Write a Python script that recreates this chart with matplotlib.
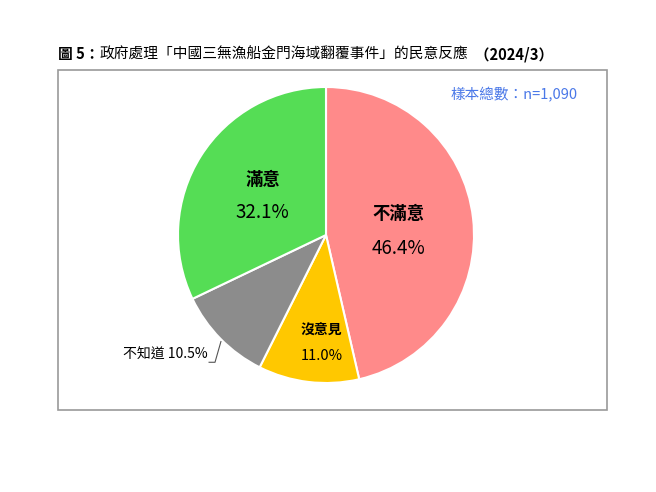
import matplotlib.pyplot as plt
from matplotlib.patches import Rectangle

plt.rcParams['font.family'] = ['Noto Sans CJK TC', 'DejaVu Sans']

categories = ["不滿意", "沒意見", "不知道", "滿意"]
values = [46.4, 11.0, 10.5, 32.1]
colors = ["#FF8A8A", "#FFC800", "#8C8C8C", "#55DD55"]
sample_text = "樣本總數：n=1,090"

fig = plt.figure(figsize=(6.56, 4.92), dpi=100)

# frame around the chart
fig.patches.append(Rectangle((58 / 656, 1 - 410 / 492), 549 / 656, 340 / 492,
                             transform=fig.transFigure, fill=False,
                             edgecolor="#9A9A9A", linewidth=1.2))

# title in three pieces (bold / regular / bold)
t1 = fig.text(58 / 656, 1 - 54 / 492, "圖 5：", fontsize=10.6, fontweight="bold",
              va="center", ha="left")
a2 = fig.add_artist(plt.Annotation("政府處理「中國三無漁船金門海域翻覆事件」的民意反應",
                                   xy=(1, 0), xycoords=t1,
                                   va="bottom", ha="left", fontsize=10.6))
a3 = fig.add_artist(plt.Annotation("  （2024/3）", xy=(1, 0), xycoords=a2,
                                   va="bottom", ha="left", fontsize=10.6,
                                   fontweight="bold"))

fig.text(578 / 656, 1 - 95 / 492, sample_text, fontsize=10.5, color="#4A78E8",
         ha="right", va="center")

ax = fig.add_axes([(326 - 148) / 656, 1 - (235 + 148) / 492, 296 / 656, 296 / 492])
ax.pie(values, colors=colors, startangle=90, counterclock=False,
       wedgeprops=dict(edgecolor="white", linewidth=1.5))
ax.set_xlim(-1.0, 1.0)
ax.set_ylim(-1.0, 1.0)
ax.set_aspect("equal")
ax.axis("off")

# labels inside the slices
ax.text(0.49, 0.14, categories[0], fontsize=12.5, fontweight="bold", ha="center", va="center")
ax.text(0.49, -0.09, f"{values[0]:.1f}%", fontsize=13.5, ha="center", va="center")
ax.text(-0.43, 0.37, categories[3], fontsize=12.5, fontweight="bold", ha="center", va="center")
ax.text(-0.43, 0.15, f"{values[3]:.1f}%", fontsize=13.5, ha="center", va="center")
ax.text(-0.03, -0.65, categories[1], fontsize=10, fontweight="bold", ha="center", va="center")
ax.text(-0.03, -0.82, f"{values[1]:.1f}%", fontsize=10.5, ha="center", va="center")

# outside label with leader line
ax.text(-0.80, -0.81, f"{categories[2]} {values[2]:.1f}%", fontsize=10,
        ha="right", va="center")
ax.plot([-0.79, -0.75, -0.71], [-0.86, -0.86, -0.72], color="#555555",
        linewidth=0.8, clip_on=False)

fig.savefig("out.png", dpi=100)
